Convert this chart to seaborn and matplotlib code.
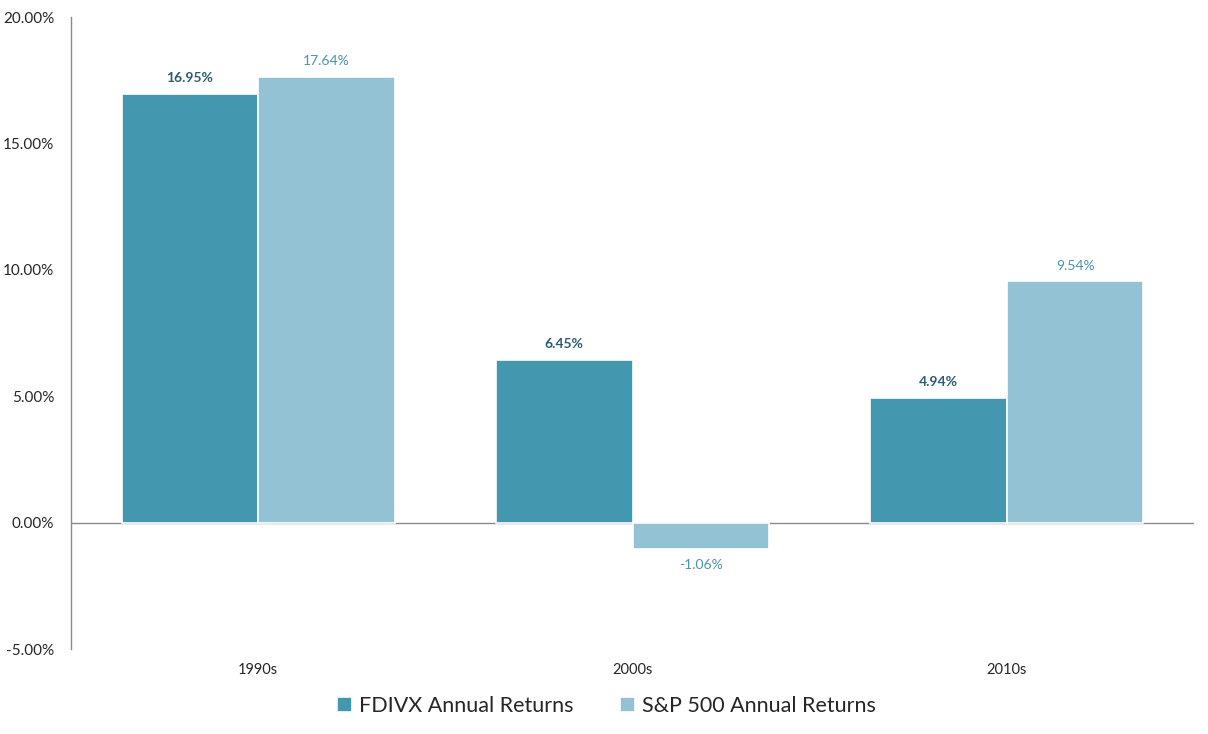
import seaborn as sns
import matplotlib.pyplot as plt
import pandas as pd

decades = ["1990s", "2000s", "2010s"]
fdivx = [16.95, 6.45, 4.94]
sp500 = [17.64, -1.06, 9.54]
series_names = ["FDIVX Annual Returns", "S&P 500 Annual Returns"]
yticks = [-5, 0, 5, 10, 15, 20]

df = pd.DataFrame({
    "decade": decades * 2,
    "ret": fdivx + sp500,
    "series": [series_names[0]] * 3 + [series_names[1]] * 3,
})

sns.set_style("white")
plt.rcParams["font.family"] = ["Lato", "DejaVu Sans"]

colores = ["#4397AE", "#93C2D4"]
label_colors = ["#2B5E70", "#4A93AB"]

fig = plt.figure(figsize=(12.08, 7.34), dpi=100)
ax = fig.add_axes([0.0588, 0.1158, 0.9296, 0.861])

sns.barplot(data=df, x="decade", y="ret", hue="series", palette=colores,
            width=0.73, edgecolor="white", linewidth=1.2, ax=ax, saturation=1)

for i, cont in enumerate(ax.containers):
    labels = [f"{v:.2f}%" for v in (fdivx if i == 0 else sp500)]
    ax.bar_label(cont, labels=labels, padding=7, color=label_colors[i],
                 fontsize=10, fontweight="bold" if i == 0 else "normal")

ax.set_ylim(-5, 20)
ax.set_xlim(-0.5, 2.5)
ax.set_yticks(yticks)
ax.set_yticklabels([f"{t:.2f}%" for t in yticks], fontsize=11)
ax.tick_params(axis="x", labelsize=10.5, pad=10, length=0)
ax.tick_params(axis="y", length=0, pad=12)
ax.axhline(0, color="#8a8a8a", linewidth=1, zorder=0)

for s in ["top", "right", "bottom"]:
    ax.spines[s].set_visible(False)
ax.spines["left"].set_color("#8a8a8a")
ax.spines["left"].set_linewidth(1)

ax.set_xlabel("")
ax.set_ylabel("")

handles, labs = ax.get_legend_handles_labels()
ax.get_legend().remove()
fig.legend(handles, labs, loc="center", bbox_to_anchor=(0.502, 0.038), ncol=2,
           frameon=False, fontsize=15.5, handlelength=0.7, handleheight=0.7,
           columnspacing=2.2, handletextpad=0.3)

fig.savefig("out.png", dpi=100)
